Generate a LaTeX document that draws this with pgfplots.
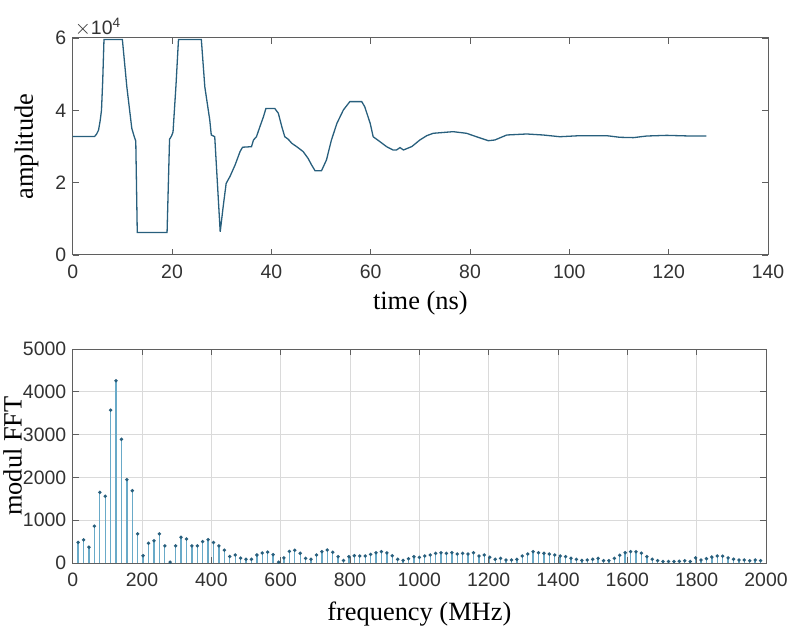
\documentclass[border=0pt]{standalone}
\usepackage{fontspec}
\setmainfont{Liberation Serif}
\setsansfont{Liberation Sans}
\usepackage{pgfplots}
\pgfplotsset{compat=1.18}

\definecolor{sig}{RGB}{40,95,125}
\definecolor{stemc}{RGB}{105,170,200}
\definecolor{boxc}{RGB}{95,95,95}
\definecolor{tickc}{RGB}{50,50,50}
\definecolor{gridc}{RGB}{218,218,218}

\pgfplotsset{
  mat/.style={
    scale only axis,
    clip mode=individual,
    axis line style={boxc, line width=1bp},
    tick style={boxc, line width=0.8bp},
    tick align=inside,
    major tick length=6bp,
    xtick pos=both, ytick pos=both,
    tick label style={font=\sffamily\fontsize{19.5}{19.5}\selectfont, text=tickc},
    xticklabel style={yshift=-6bp},
    yticklabel style={xshift=-3bp},
    /pgf/number format/assume math mode=true,
    /pgf/number format/set thousands separator={},
    scaled ticks=false,
    label style={font=\fontsize{26.5}{26.5}\selectfont},
    xlabel style={at={(rel axis cs:0.5,0)}, anchor=base, yshift=-55bp},
  },
}

\begin{document}
\begin{tikzpicture}
% time signal
\begin{axis}[mat,
  at={(72.7bp,374bp)}, anchor=south west,
  width=695.3bp, height=217bp,
  xmin=0, xmax=140, ymin=0, ymax=60000,
  xtick={0,20,...,140},
  ytick={0,20000,40000,60000}, yticklabels={0,2,4,6},
  xlabel={time (ns)}, ylabel={amplitude},
  ylabel style={at={(rel axis cs:0,0.5)}, anchor=base, yshift=39.7bp},
]
\addplot[sig, line width=1.3bp] table {
0 32768
4.4 32768
4.8 33400
5.2 34500
5.55 37300
5.8 40100
6.05 48400
6.3 59600
10.0 59600
10.9 46500
11.9 35000
12.4 32700
12.7 31500
13.0 6200
19.0 6200
19.5 32000
19.9 32900
20.2 34000
20.8 47000
21.3 59600
25.9 59600
26.6 46500
27.6 37300
27.9 33200
28.6 32700
29.7 6400
30.3 13400
30.9 19800
31.7 21800
32.7 24900
33.7 28600
34.2 29800
36.0 29950
36.4 31800
37.0 32700
37.7 35500
38.4 38200
38.9 40500
40.7 40500
41.4 39200
42.1 35500
42.7 32700
43.4 32000
44.1 30900
45.1 29950
46.4 28600
47.4 26700
48.1 24900
48.8 23300
50.1 23300
51.1 26300
52.1 31800
53.2 36400
54.5 40100
55.8 42400
58.2 42400
58.8 41000
59.9 36400
60.5 32700
61.9 31300
63.2 29950
64.5 29030
65.2 29030
65.9 29700
66.6 29030
68.3 30000
69.9 31800
71.3 33000
72.6 33650
76.6 34100
79.3 33650
81.3 32700
83.7 31600
85.0 31800
87.4 33180
91.4 33460
94.7 33180
98.1 32700
102.1 32990
107.5 32990
110.2 32540
112.9 32450
115.6 32900
119.6 33080
124.3 32900
127.6 32900
};
\node[anchor=base west, font=\sffamily\fontsize{19.5}{19.5}\selectfont, text=tickc, inner sep=0pt]
  at (rel axis cs:0,1) [xshift=2bp, yshift=3bp] {$\times$10\textsuperscript{4}};
\end{axis}

% spectrum
\begin{axis}[mat,
  at={(72.7bp,66bp)}, anchor=south west,
  width=693.3bp, height=214bp,
  xmin=0, xmax=2000, ymin=0, ymax=5000,
  xtick={0,200,...,2000}, ytick={0,1000,...,5000},
  grid=major, major grid style={gridc, line width=0.8bp},
  xlabel={frequency (MHz)}, ylabel={modul FFT},
  xlabel style={yshift=-2bp},
  ylabel style={at={(rel axis cs:0,0.5)}, anchor=base, yshift=51bp},
]
\addplot[ycomb, stemc, line width=1.4bp, mark=*, mark size=0.9bp,
  mark options={fill=sig, draw=sig}] table {
15.6 480
31.3 540
46.9 370
62.5 860
78.1 1650
93.8 1560
109.4 3570
125 4260
140.6 2890
156.3 1950
171.9 1690
187.5 680
203.1 170
218.8 460
234.4 520
250 680
265.6 400
281.3 20
296.9 400
312.5 600
328.1 560
343.8 400
359.4 400
375 500
390.6 545
406.3 480
421.9 400
437.5 300
453.1 150
468.8 187
484.4 115
500 86
515.6 86
531.3 187
546.9 235
562.5 255
578.1 195
593.8 20
609.4 120
625 270
640.6 300
656.3 226
671.9 109
687.5 86
703.1 187
718.8 265
734.4 304
750 250
765.6 148
781.3 60
796.9 148
812.5 170
828.1 164
843.8 164
859.4 200
875 241
890.6 265
906.3 235
921.9 170
937.5 86
953.1 60
968.8 100
984.4 148
1000 132
1015.6 164
1031.3 187
1046.9 226
1062.5 241
1078.1 226
1093.8 241
1109.4 210
1125 226
1140.6 210
1156.3 241
1171.9 164
1187.5 187
1203.1 132
1218.8 86
1234.4 109
1250 70
1265.6 70
1281.3 86
1296.9 164
1312.5 210
1328.1 265
1343.8 241
1359.4 226
1375 210
1390.6 187
1406.3 164
1421.9 148
1437.5 109
1453.1 86
1468.8 60
1484.4 70
1500 86
1515.6 109
1531.3 55
1546.9 55
1562.5 109
1578.1 180
1593.8 241
1609.4 265
1625 265
1640.6 230
1656.3 150
1671.9 86
1687.5 55
1703.1 35
1718.8 35
1734.4 35
1750 40
1765.6 55
1781.3 35
1796.9 120
1812.5 70
1828.1 100
1843.8 140
1859.4 164
1875 160
1890.6 120
1906.3 90
1921.9 70
1937.5 70
1953.1 55
1968.8 70
1984.4 55
};
\end{axis}
\pgfresetboundingbox
\path (0,0) rectangle (790bp,629bp);
\end{tikzpicture}
\end{document}
